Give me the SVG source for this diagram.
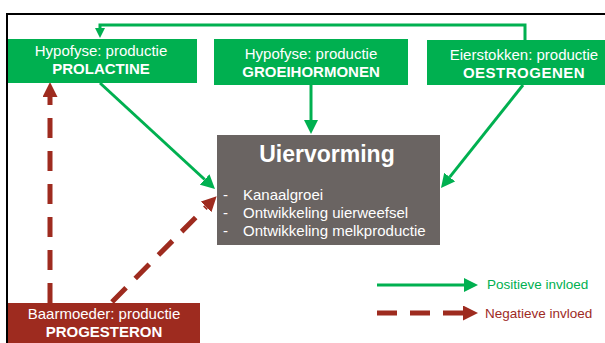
<svg xmlns="http://www.w3.org/2000/svg" width="605" height="343" viewBox="0 0 605 343">
<style>
.g{fill:#00B050}
.r{fill:#9E2B1F}
.t{font-family:"Liberation Sans",Arial,sans-serif;fill:#ffffff;text-anchor:middle;font-size:15px}
.b{font-weight:bold}
.li{font-family:"Liberation Sans",Arial,sans-serif;fill:#ffffff;font-size:15px}
.pos{stroke:#00B050;stroke-width:3;fill:none}
.neg{stroke:#9E2B1F;stroke-width:5;fill:none;stroke-dasharray:20 13}
.lg{font-family:"Liberation Sans",Arial,sans-serif;font-size:13.5px}
</style>
<defs>
<marker id="ag" markerUnits="userSpaceOnUse" markerWidth="14" markerHeight="14" refX="0" refY="7" orient="auto" viewBox="0 0 14 14"><path d="M0,0 L14,7 L0,14 z" fill="#00B050"/></marker>
<marker id="ags" markerUnits="userSpaceOnUse" markerWidth="10" markerHeight="10" refX="0" refY="5" orient="auto" viewBox="0 0 10 10"><path d="M0,0 L10,5 L0,10 z" fill="#00B050"/></marker>
<marker id="ar" markerUnits="userSpaceOnUse" markerWidth="15" markerHeight="15" refX="0" refY="7.5" orient="auto" viewBox="0 0 15 15"><path d="M0,0 L15,7.5 L0,15 z" fill="#9E2B1F"/></marker>
</defs>
<rect width="605" height="343" fill="#ffffff"/>
<g id="frame"><path d="M7,343 V14 H605" fill="none" stroke="#000" stroke-width="2"/></g>
<g id="connectors">
<path class="pos" d="M525,40 V25 H100 V28" marker-end="url(#ags)"/>
<path class="pos" d="M311,85 V120" marker-end="url(#ag)"/>
<path class="pos" d="M100,83 L204.7,179.5" marker-end="url(#ag)"/>
<path class="pos" d="M523,85 L449.7,177.1" marker-end="url(#ag)"/>
<path class="neg" d="M50,303 V97" marker-end="url(#ar)"/>
<path class="neg" d="M112,302 L206.1,206.9" marker-end="url(#ar)"/>
</g>
<g id="prolactine">
<rect class="g" x="8" y="39" width="189" height="44"/>
<text class="t" x="101" y="56">Hypofyse: productie</text>
<text class="t b" x="101" y="74">PROLACTINE</text>
</g>
<g id="groeihormonen">
<rect class="g" x="214" y="39" width="194" height="46"/>
<text class="t" x="311" y="59">Hypofyse: productie</text>
<text class="t b" x="311" y="77">GROEIHORMONEN</text>
</g>
<g id="oestrogenen">
<rect class="g" x="427" y="40" width="178" height="45"/>
<text class="t" x="524" y="60">Eierstokken: productie</text>
<text class="t b" x="524" y="78" letter-spacing="0.5">OESTROGENEN</text>
</g>
<g id="uiervorming">
<rect x="217" y="135" width="223" height="110" fill="#6A6462"/>
<text class="t b" x="327" y="162" font-size="23" style="font-size:23px">Uiervorming</text>
<text class="li" x="223" y="200">-</text><text class="li" x="243" y="200">Kanaalgroei</text>
<text class="li" x="223" y="218">-</text><text class="li" x="243" y="218">Ontwikkeling uierweefsel</text>
<text class="li" x="223" y="236">-</text><text class="li" x="243" y="236">Ontwikkeling melkproductie</text>
</g>
<g id="progesteron">
<rect class="r" x="8" y="303" width="192" height="40"/>
<text class="t" x="104" y="319">Baarmoeder: productie</text>
<text class="t b" x="104" y="337">PROGESTERON</text>
</g>
<g id="legend">
<path class="pos" d="M377,285 H464" marker-end="url(#ag)"/>
<text class="lg" x="487" y="289" fill="#00B050">Positieve invloed</text>
<path class="neg" d="M377,313 H463" marker-end="url(#ar)"/>
<text class="lg" x="485" y="318" fill="#9E2B1F">Negatieve invloed</text>
</g>
</svg>
